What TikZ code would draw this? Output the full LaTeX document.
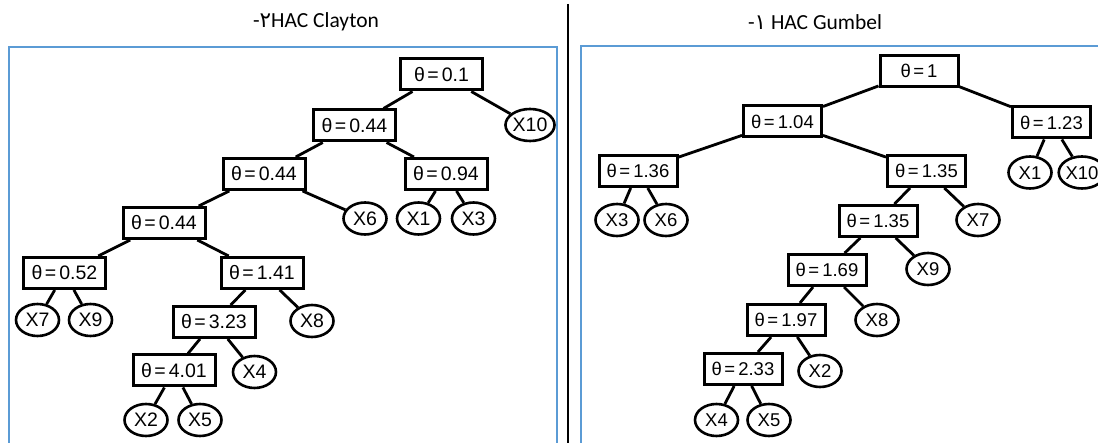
\documentclass[tikz,border=0pt]{standalone}
\usepackage{fontspec}
\setmainfont{Liberation Sans}
\newfontfamily\titlefont{Carlito}
\newfontfamily\arabicfont[Script=Arabic]{DejaVu Sans}
\usetikzlibrary{shapes.geometric}

\definecolor{framecol}{HTML}{5B9BD5}
\tikzset{
  frameline/.style={draw=framecol, line width=2pt},
  theta/.style={draw, line width=3pt, fill=white, inner sep=0pt,
    minimum height=31pt, text height=13.5pt, text depth=0pt},
  leaf/.style={draw, ellipse, line width=2.6pt, fill=white, inner sep=0pt,
    minimum width=43pt, minimum height=32pt, text height=13.5pt, text depth=0pt},
  lpanel/.style={font=\fontsize{19.5}{19.5}\selectfont, minimum width=82pt},
  rpanel/.style={font=\fontsize{18.5}{18.5}\selectfont, minimum width=78pt},
  branch/.style={line width=2.8pt},
  title/.style={font=\titlefont\fontsize{21.5}{21.5}\selectfont, anchor=center}
}
\newcommand{\thv}[1]{θ\hspace{2.5pt}=\hspace{3pt}#1}

\begin{document}
\begin{tikzpicture}[x=1pt, y=-1pt]
  \useasboundingbox (0,0) rectangle (1098,443);
  \begin{scope}
    \clip (0,0) rectangle (1098,443);

    % panel frames and separator
    \draw[frameline] (8.5,47.5) rectangle (557,460);
    \draw[frameline] (581,46) rectangle (1110,460);
    \draw[line width=2pt] (567.5,4) -- (567.5,450);

    % titles
    \node[title] (tl) at (316,22) {-{\arabicfont ٢}HAC Clayton};
    \node[title] (tr) at (815,22) {-{\arabicfont ١} HAC Gumbel};

    % ---------- Clayton tree ----------
    \begin{scope}[every node/.append style={lpanel}]
      \node[theta] (L1) at (441.5,74.5) {\thv{0.1}};
      \node[theta] (L2) at (354.5,125.5) {\thv{0.44}};
      \node[leaf]  (cX10) at (530,125) {X10};
      \node[theta] (L3) at (264,174) {\thv{0.44}};
      \node[theta] (L4) at (446,174) {\thv{0.94}};
      \node[leaf]  (cX6) at (365,218.5) {X6};
      \node[leaf]  (cX1) at (418.5,218.5) {X1};
      \node[leaf]  (cX3) at (473.5,218.5) {X3};
      \node[theta] (L5) at (164,223) {\thv{0.44}};
      \node[theta] (L6) at (64.5,273) {\thv{0.52}};
      \node[theta] (L7) at (262,273) {\thv{1.41}};
      \node[leaf]  (cX7) at (37.5,320) {X7};
      \node[leaf]  (cX9) at (90.5,320) {X9};
      \node[theta] (L8) at (214,322) {\thv{3.23}};
      \node[leaf]  (cX8) at (312,321) {X8};
      \node[theta] (L9) at (174,370.5) {\thv{4.01}};
      \node[leaf]  (cX4) at (254.5,372) {X4};
      \node[leaf]  (cX2) at (146,420) {X2};
      \node[leaf]  (cX5) at (200,420) {X5};
    \end{scope}

    % ---------- Gumbel tree ----------
    \begin{scope}[every node/.append style={rpanel}]
      \node[theta] (R1) at (919,71) {\thv{1}};
      \node[theta] (R2) at (782.5,121.5) {\thv{1.04}};
      \node[theta] (R3) at (1051.5,122.5) {\thv{1.23}};
      \node[theta] (R4) at (638,171) {\thv{1.36}};
      \node[theta] (R5) at (926.5,171) {\thv{1.35}};
      \node[leaf]  (gX3) at (617,220) {X3};
      \node[leaf]  (gX6) at (666,220) {X6};
      \node[leaf]  (gX1) at (1030,172.5) {X1};
      \node[leaf]  (gX10) at (1082,172.5) {X10};
      \node[theta] (R6) at (878,221) {\thv{1.35}};
      \node[leaf]  (gX7) at (978,220) {X7};
      \node[theta] (R7) at (827,270) {\thv{1.69}};
      \node[leaf]  (gX9) at (928,269) {X9};
      \node[theta] (R8) at (786,320) {\thv{1.97}};
      \node[leaf]  (gX8) at (877,320) {X8};
      \node[theta] (R9) at (743,369) {\thv{2.33}};
      \node[leaf]  (gX2) at (820,371) {X2};
      \node[leaf]  (gX4) at (716.5,420) {X4};
      \node[leaf]  (gX5) at (769,420) {X5};
    \end{scope}

    % branches
    \foreach \a/\b in {L1/L2, L1/cX10, L2/L3, L2/L4, L3/L5, L3/cX6, L4/cX1, L4/cX3,
                       L5/L6, L5/L7, L6/cX7, L6/cX9, L7/L8, L7/cX8, L8/L9, L8/cX4,
                       L9/cX2, L9/cX5,
                       R1/R2, R1/R3, R2/R4, R2/R5, R3/gX1, R3/gX10, R4/gX3, R4/gX6,
                       R5/R6, R5/gX7, R6/R7, R6/gX9, R7/R8, R7/gX8, R8/R9, R8/gX2,
                       R9/gX4, R9/gX5}
      \draw[branch] (\a) -- (\b);
  \end{scope}
\end{tikzpicture}
\end{document}
